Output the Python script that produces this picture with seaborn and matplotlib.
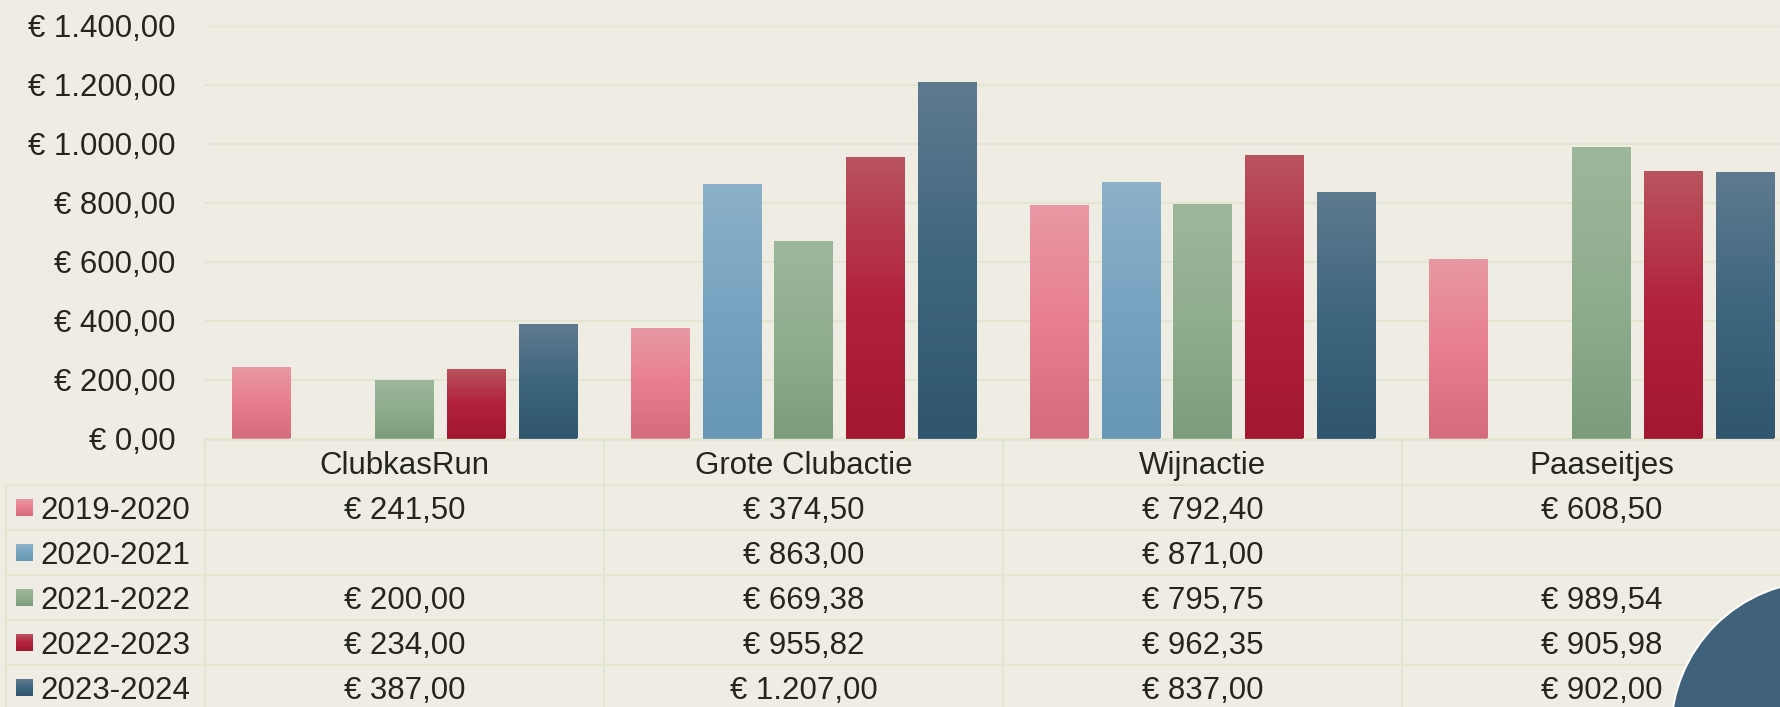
import numpy as np
import pandas as pd
import matplotlib
matplotlib.use("Agg")
import matplotlib.pyplot as plt
from matplotlib.colors import LinearSegmentedColormap
from matplotlib.lines import Line2D
from matplotlib.patches import Ellipse
import seaborn as sns

# data
categories = ["ClubkasRun", "Grote Clubactie", "Wijnactie", "Paaseitjes"]
seasons = ["2019-2020", "2020-2021", "2021-2022", "2022-2023", "2023-2024"]
v_2019 = [241.50, 374.50, 792.40, 608.50]
v_2020 = [np.nan, 863.00, 871.00, np.nan]
v_2021 = [200.00, 669.38, 795.75, 989.54]
v_2022 = [234.00, 955.82, 962.35, 905.98]
v_2023 = [387.00, 1207.00, 837.00, 902.00]
y_ticks = [0, 200, 400, 600, 800, 1000, 1200, 1400]

# gradient stops per season: top, middle, bottom
grad = {
    "2019-2020": ["#E898A4", "#E87F91", "#D56C7E"],
    "2020-2021": ["#8DB1CA", "#77A3C0", "#6797B4"],
    "2021-2022": ["#9DB79C", "#8FAE8E", "#7C9D7C"],
    "2022-2023": ["#B9545F", "#B2223C", "#A31730"],
    "2023-2024": ["#5E7A8F", "#3F667F", "#30566F"],
}
palette = {s: grad[s][1] for s in seasons}

BG = "#EEECE3"
GRID = "#E2E5CF"
TXT = "#25251B"

rows = []
for s, vals in zip(seasons, [v_2019, v_2020, v_2021, v_2022, v_2023]):
    for c, v in zip(categories, vals):
        rows.append({"category": c, "season": s, "value": v})
df = pd.DataFrame(rows)

def euro(v):
    s = f"{v:,.2f}"
    return "€ " + s.replace(",", "X").replace(".", ",").replace("X", ".")

W, H = 1780, 707
fig = plt.figure(figsize=(W / 100, H / 100), dpi=100, facecolor=BG)
plt.rcParams["font.family"] = ["Liberation Sans", "DejaVu Sans"]

# plot area in pixels (from top-left)
ax_l, ax_t, ax_b, col_w = 205, 25.5, 438.5, 399
ax = fig.add_axes([ax_l / W, (H - ax_b) / H, 4 * col_w / W, (ax_b - ax_t) / H])
ax.set_facecolor(BG)

sns.barplot(data=df.dropna(), x="category", y="value", hue="season",
            order=categories, hue_order=seasons, palette=palette,
            width=0.898, gap=0.19, legend=False, ax=ax, zorder=3,
            linewidth=0, edgecolor="none")

ax.set_xlim(-0.5, 3.5)
ax.set_ylim(0, 1400)

# gradient fill for each bar
ramp = np.linspace(0, 1, 256).reshape(-1, 1)
for s, cont in zip(seasons, ax.containers):
    cmap = LinearSegmentedColormap.from_list(s, grad[s])
    for p in cont.patches:
        if np.isnan(p.get_height()):
            continue
        x0, y0 = p.get_x(), p.get_y()
        im = ax.imshow(ramp, cmap=cmap, aspect="auto", origin="upper",
                       extent=[x0, x0 + p.get_width(), y0, y0 + p.get_height()],
                       zorder=4, interpolation="bilinear")
        im.set_clip_path(p)
ax.set_xlim(-0.5, 3.5)
ax.set_ylim(0, 1400)

ax.set_yticks(y_ticks)
ax.set_yticklabels([euro(t) for t in y_ticks])
ax.tick_params(axis="y", length=0, pad=21, labelsize=22.5, labelcolor=TXT)
ax.set_xticks([])
ax.set_xlabel("")
ax.set_ylabel("")
ax.grid(axis="y", color=GRID, linewidth=1.5, zorder=0)
for sp in ax.spines.values():
    sp.set_visible(False)

# data table below the plot
ah = ax_b - ax_t
def fy(ypx):
    return (ax_b - ypx) / ah
def fx(xpx):
    return (xpx - ax_l) / (4 * col_w)

row_h = 45
hdr_top = 440
bounds = [hdr_top + row_h * k for k in range(7)]
xtr = ax.get_xaxis_transform()

def line(xs, ys, tr):
    ax.add_line(Line2D(xs, ys, transform=tr, color=GRID, linewidth=1.5,
                       clip_on=False, zorder=1))

line([0, 1.05], [fy(bounds[0])] * 2, ax.transAxes)
for b in bounds[1:6]:
    line([fx(6), 1.05], [fy(b)] * 2, ax.transAxes)
line([fx(6), fx(6)], [fy(bounds[1]), fy(bounds[6])], ax.transAxes)
for k in range(5):
    line([k - 0.5, k - 0.5], [fy(bounds[0]), fy(bounds[6])], xtr)

for i, c in enumerate(categories):
    ax.text(i, fy(bounds[0] + row_h / 2), c, transform=xtr, ha="center",
            va="center_baseline", fontsize=22.5, color=TXT, clip_on=False)

table_vals = [v_2019, v_2020, v_2021, v_2022, v_2023]
for r, (s, vals) in enumerate(zip(seasons, table_vals)):
    yc = bounds[r + 1] + row_h / 2
    ax.text(fx(40), fy(yc), s, transform=ax.transAxes, ha="left",
            va="center_baseline", fontsize=22.5, color=TXT, clip_on=False)
    for i, v in enumerate(vals):
        if not np.isnan(v):
            ax.text(i, fy(yc), euro(v), transform=xtr, ha="center",
                    va="center_baseline", fontsize=22.5, color=TXT, clip_on=False)
    # legend key
    kax = fig.add_axes([16 / W, (H - yc - 8.5) / H, 17 / W, 17 / H])
    kax.imshow(ramp, cmap=LinearSegmentedColormap.from_list(s + "k", grad[s]),
               aspect="auto", origin="upper")
    kax.axis("off")

# decorative circle in the bottom-right corner
cx, cy, rad = 1822, 732, 151
fig.patches.append(Ellipse((cx / W, (H - cy) / H), 2 * rad / W, 2 * rad / H,
                           transform=fig.transFigure, facecolor="#3F617A",
                           edgecolor="white", linewidth=1.5, zorder=10))

fig.savefig("out.png", dpi=100, facecolor=BG)
